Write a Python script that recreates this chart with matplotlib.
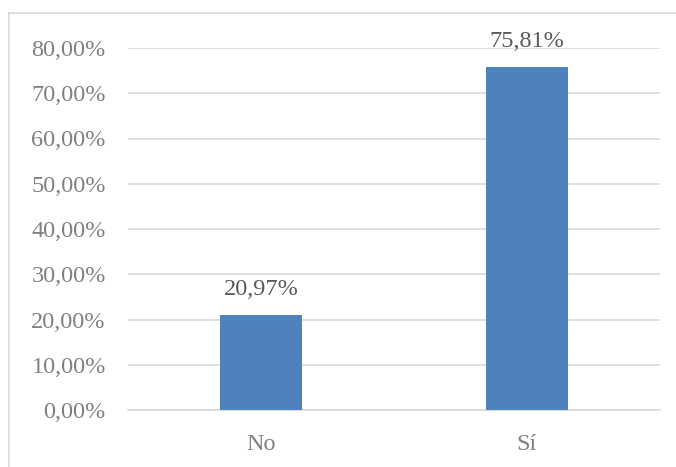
import matplotlib
matplotlib.use("Agg")
import matplotlib.pyplot as plt
from matplotlib.lines import Line2D
from matplotlib.ticker import FuncFormatter

categories = ["No", "Sí"]
values = [20.97, 75.81]
y_ticks = [0, 10, 20, 30, 40, 50, 60, 70, 80]

bar_color = "#4F81BD"
grid_color = "#D9D9D9"
tick_color = "#808080"
label_color = "#595959"

plt.rcParams["font.family"] = ["Liberation Serif", "DejaVu Serif"]

fig = plt.figure(figsize=(6.76, 4.67), dpi=100)
ax = fig.add_axes([128 / 676, 57 / 467, 532 / 676, 362 / 467])

x = range(len(categories))
bars = ax.bar(x, values, width=0.31, color=bar_color, zorder=3)

for b, v in zip(bars, values):
    ax.annotate(f"{v:.2f}%".replace(".", ","),
                (b.get_x() + b.get_width() / 2, v),
                xytext=(0, 11), textcoords="offset points",
                ha="center", va="bottom", fontsize=17.5, color=label_color)

ax.set_xlim(-0.5, 1.5)
ax.set_ylim(0, 80)
ax.set_yticks(y_ticks)
ax.yaxis.set_major_formatter(FuncFormatter(lambda v, p: f"{v:.2f}%".replace(".", ",")))
ax.set_xticks(list(x))
ax.set_xticklabels(categories)
ax.tick_params(axis="y", length=0, pad=16, labelsize=17.5, labelcolor=tick_color)
ax.tick_params(axis="x", length=0, pad=17, labelsize=17.5, labelcolor=tick_color)

ax.grid(axis="y", color=grid_color, linewidth=1.2, zorder=0)
for s in ["top", "right", "left"]:
    ax.spines[s].set_visible(False)
ax.spines["bottom"].set_color(grid_color)
ax.spines["bottom"].set_linewidth(1.2)

# chart area border (left and top edges visible)
fig.add_artist(Line2D([9 / 676, 9 / 676], [0, 1 - 13 / 467], transform=fig.transFigure,
                      color=grid_color, linewidth=1.2))
fig.add_artist(Line2D([9 / 676, 1], [1 - 13 / 467, 1 - 13 / 467], transform=fig.transFigure,
                      color=grid_color, linewidth=1.2))

fig.savefig("out.png", dpi=100)
